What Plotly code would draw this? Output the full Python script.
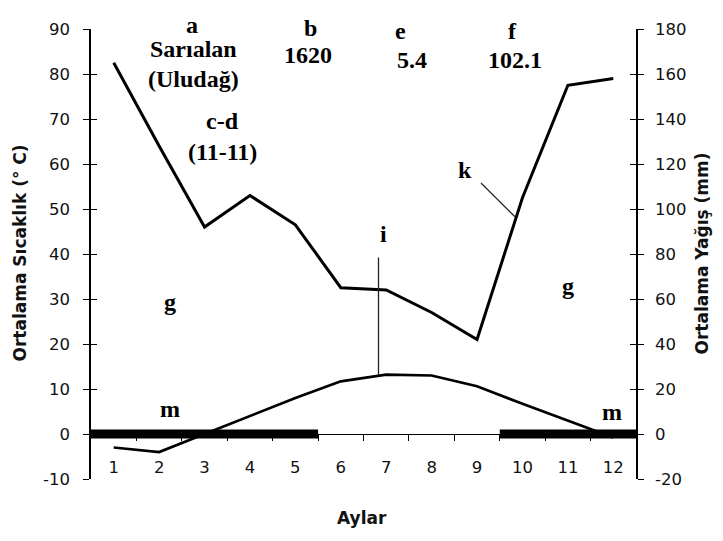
import plotly.graph_objects as go

# ---- data ----
months = [1, 2, 3, 4, 5, 6, 7, 8, 9, 10, 11, 12]
month_labels = [str(m) for m in months]
temperature = [-3.0, -4.0, 0.0, 4.0, 8.0, 11.7, 13.2, 13.0, 10.6, 6.7, 3.0, -0.8]
precipitation = [165, 128, 92, 106, 93, 65, 64, 54, 42, 105, 155, 158]
frost_periods = [(0.5, 5.5), (9.5, 12.5)]
temp_ticks = [-10, 0, 10, 20, 30, 40, 50, 60, 70, 80, 90]
prec_ticks = [-20, 0, 20, 40, 60, 80, 100, 120, 140, 160, 180]
temp_tick_text = ["-10", "0", "10", "20", "30", "40", "50", "60", "70", "80", "90"]
prec_tick_text = ["-20", "0", "20", "40", "60", "80", "100", "120", "140", "160", "180"]

# page layout (page pixels; the page body has an 8px margin)
OFF = 8
PW, PH = 723, 541
PL, PR, PT, PB = 91, 636, 26, 479   # plot area edges on the page
W, H = PW - OFF, PH - OFF
X0, X1 = 0.5, 12.5
Y0, Y1 = -10, 90


def xp(px):
    return (px - PL) / (PR - PL)


def yp(py):
    return (PB - py) / (PB - PT)


fig = go.Figure()

# frost bars
for a, b in frost_periods:
    fig.add_trace(go.Scatter(x=[a, b], y=[0, 0], mode="lines",
                             line=dict(color="black", width=9),
                             hoverinfo="skip", showlegend=False))

fig.add_trace(go.Scatter(x=months, y=temperature, mode="lines",
                         line=dict(color="black", width=2.7),
                         showlegend=False, name="Sıcaklık"))
fig.add_trace(go.Scatter(x=months, y=precipitation, mode="lines",
                         line=dict(color="black", width=3),
                         yaxis="y2", showlegend=False, name="Yağış"))

tickfont = dict(family="DejaVu Sans", size=16.5, color="#111")

fig.update_layout(
    width=W, height=H,
    margin=dict(l=PL - OFF, r=W - (PR - OFF), t=PT - OFF, b=H - (PB - OFF)),
    paper_bgcolor="white", plot_bgcolor="white",
    xaxis=dict(range=[X0, X1], tickvals=months, ticktext=month_labels,
               ticks="", showgrid=False, zeroline=False,
               showline=True, linecolor="black", linewidth=1,
               anchor="free", position=(0 - Y0) / (Y1 - Y0),
               tickfont=tickfont, ticklabelstandoff=18,
               minor=dict(tickvals=[m + 0.5 for m in months[:-1]],
                          ticks="outside", ticklen=6, tickcolor="black",
                          tickwidth=1, showgrid=False)),
    yaxis=dict(range=[Y0, Y1], tickvals=temp_ticks, ticktext=temp_tick_text,
               ticks="outside",
               ticklen=6, tickcolor="black", showgrid=False, zeroline=False,
               showline=True, linecolor="black", linewidth=1.5,
               tickfont=tickfont, ticklabelstandoff=10),
    yaxis2=dict(range=[-20, 180], tickvals=prec_ticks, ticktext=prec_tick_text,
                ticks="outside",
                ticklen=6, tickcolor="black", showgrid=False, zeroline=False,
                showline=True, linecolor="black", linewidth=1.5,
                overlaying="y", side="right", anchor="x",
                tickfont=tickfont, ticklabelstandoff=8),
    yaxis3=dict(range=[Y0, Y1], tickvals=temp_ticks, ticks="inside",
                ticklen=6, tickcolor="black", showgrid=False, zeroline=False,
                showticklabels=False, overlaying="y", side="left", anchor="x"),
    yaxis4=dict(range=[-20, 180], tickvals=prec_ticks, ticks="inside",
                ticklen=6, tickcolor="black", showgrid=False, zeroline=False,
                showticklabels=False, overlaying="y", side="right", anchor="x"),
)
fig.add_trace(go.Scatter(x=[None], y=[None], yaxis="y3", showlegend=False))
fig.add_trace(go.Scatter(x=[None], y=[None], yaxis="y4", showlegend=False))

# axis titles
titlefont = dict(family="DejaVu Sans", size=17, color="#111")
common = dict(xref="paper", yref="paper", showarrow=False,
              xanchor="center", yanchor="middle", font=titlefont)
fig.add_annotation(text="<b>Ortalama Sıcaklık (° C)</b>", x=xp(20), y=yp(252),
                   textangle=-90, **common)
fig.add_annotation(text="<b>Ortalama Yağış (mm)</b>", x=xp(702), y=yp(252),
                   textangle=-90, **common)
fig.add_annotation(text="<b>Aylar</b>", x=xp(362), y=yp(518), **common)

# text labels (page pixel centres)
labels = [
    ("a", 192, 22), ("Sarıalan", 193, 46), ("(Uludağ)", 193, 76),
    ("b", 310, 25), ("1620", 308, 52),
    ("c-d", 222, 119), ("(11-11)", 222, 150),
    ("e", 400, 28), ("5.4", 412, 57),
    ("f", 512, 28), ("102.1", 515, 57),
    ("g", 170, 301), ("g", 568, 285),
    ("i", 383, 232), ("k", 465, 168),
    ("m", 170, 409), ("m", 612, 412),
]
serif = dict(family="Liberation Serif, Times New Roman", size=24, color="black")
for txt, px, py in labels:
    fig.add_annotation(text=f"<b>{txt}</b>", x=xp(px), y=yp(py),
                       xref="paper", yref="paper", showarrow=False,
                       xanchor="center", yanchor="middle", font=serif)

# leader lines
fig.add_shape(type="line", xref="paper", yref="paper",
              x0=xp(378.5), y0=yp(256), x1=xp(378.5), y1=yp(374),
              line=dict(color="#222", width=1.3))
fig.add_shape(type="line", xref="paper", yref="paper",
              x0=xp(481), y0=yp(181), x1=xp(515), y1=yp(215),
              line=dict(color="#222", width=1.2))

fig.write_html("out.html")
